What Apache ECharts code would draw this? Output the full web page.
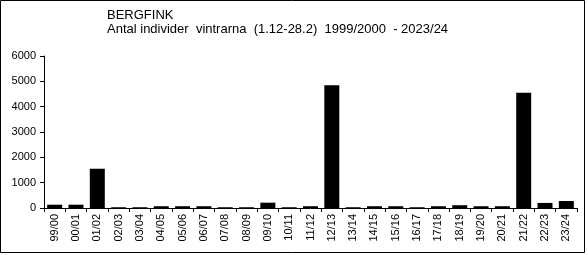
<!DOCTYPE html>
<html><head><meta charset="utf-8">
<script src="https://cdn.jsdelivr.net/npm/echarts@6/dist/echarts.min.js"></script>
<style>html,body{margin:0;padding:0;background:#fff}#c{width:588px;height:255px}</style>
</head><body><div id="c"></div>
<script>
const titleText = 'BERGFINK';
const subtitleText = 'Antal individer  vintrarna  (1.12-28.2)  1999/2000  - 2023/24';
const categories = ['99/00','00/01','01/02','02/03','03/04','04/05','05/06','06/07','07/08','08/09','09/10','10/11','11/12','12/13','13/14','14/15','15/16','16/17','17/18','18/19','19/20','20/21','21/22','22/23','23/24'];
const values = [130,130,1550,30,30,70,70,70,30,30,210,30,70,4850,30,70,70,30,70,110,70,70,4550,200,275];
const yTicks = [0,1000,2000,3000,4000,5000,6000];

const chart = echarts.init(document.getElementById('c'), null, {renderer:'canvas'});
const font = 'Liberation Sans, Arial, sans-serif';
chart.setOption({
  animation:false,
  backgroundColor:'#fff',
  graphic:[{type:'rect',shape:{x:0.5,y:0.5,width:584,height:252},style:{fill:'none',stroke:'#000',lineWidth:1},silent:true},
    {type:'text',left:107,top:9,style:{text:titleText,font:'13px '+font,fill:'#000'}},
    {type:'text',left:107,top:23,style:{text:subtitleText,font:'13px '+font,fill:'#000'}}],
  grid:{left:44,right:11,top:56,bottom:47,containLabel:false},
  xAxis:{type:'category',data:categories,boundaryGap:true,
    axisLine:{lineStyle:{color:'#000',width:1}},
    axisTick:{show:true,length:4,alignWithLabel:false,lineStyle:{color:'#000'}},
    axisLabel:{rotate:90,interval:0,fontSize:11,fontFamily:font,color:'#000',margin:6}},
  yAxis:{type:'value',min:yTicks[0],max:yTicks[yTicks.length-1],interval:1000,
    splitLine:{show:false},
    axisLine:{show:true,lineStyle:{color:'#000',width:1}},
    axisTick:{show:true,length:4,lineStyle:{color:'#000'}},
    axisLabel:{fontSize:11,fontFamily:font,color:'#000',margin:8,formatter:v=>String(v)}},
  series:[{type:'bar',data:values,barWidth:15,itemStyle:{color:'#000'}}]
});
</script></body></html>
